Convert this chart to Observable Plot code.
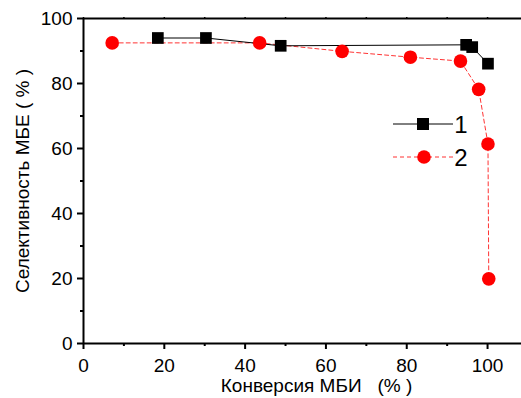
<!DOCTYPE html>
<html>
<head>
<meta charset="utf-8">
<script src="https://cdn.jsdelivr.net/npm/d3@7"></script>
<script src="https://cdn.jsdelivr.net/npm/@observablehq/plot@0.6"></script>
<style>
body { margin: 0; background: #fff; }
#chart svg { font-family: "Liberation Sans", Arial, sans-serif; }
</style>
</head>
<body>
<div id="chart"></div>
<script>
// Series 1 (black squares)
const s1x = [18.4, 30.3, 48.8, 94.7, 96.2, 100.1];
const s1y = [94.0, 94.0, 91.6, 91.9, 91.2, 86.1];
// Series 2 (red circles)
const s2x = [7.1, 43.6, 64.0, 80.9, 93.3, 97.8, 100.1, 100.3];
const s2y = [92.5, 92.5, 89.9, 88.1, 86.9, 78.2, 61.4, 19.9];
const xMajor = [0, 20, 40, 60, 80, 100];
const xMinor = [10, 30, 50, 70, 90];
const yMajor = [0, 20, 40, 60, 80, 100];
const yMinor = [10, 30, 50, 70, 90];
const xLabel = "Конверсия МБИ\u00a0\u00a0\u00a0(%\u00a0)";
const yLabel = "Селективность МБЕ (\u00a0%\u00a0)";
const seriesNames = ["1", "2"];

const d1 = s1x.map((x, i) => ({x, y: s1y[i]}));
const d2 = s2x.map((x, i) => ({x, y: s2y[i]}));

const plot = Plot.plot({
  width: 521,
  height: 398,
  marginLeft: 83,
  marginRight: 0,
  marginTop: 18,
  marginBottom: 55,
  x: {domain: [0, 108.4]},
  y: {domain: [0, 100]},
  style: {fontSize: "19px", fontFamily: "Liberation Sans, Arial, sans-serif", color: "#000"},
  marks: [
    Plot.axisX(xMajor, {tickSize: 6, tickPadding: 9, strokeWidth: 2, label: null, fontSize: 19}),
    Plot.axisX(xMinor, {tickSize: 3, strokeWidth: 2, text: null, label: null}),
    Plot.axisX([...xMajor, ...xMinor], {anchor: "top", tickSize: 2, strokeWidth: 1.5, text: null, label: null}),
    Plot.axisY(yMajor, {tickSize: 6, tickPadding: 5, strokeWidth: 2, label: null, fontSize: 19}),
    Plot.axisY(yMinor, {tickSize: 3, strokeWidth: 2, text: null, label: null}),
    Plot.ruleX([0], {stroke: "#000", strokeWidth: 2}),
    Plot.ruleY([0], {stroke: "#000", strokeWidth: 2}),
    Plot.ruleY([100], {stroke: "#000", strokeWidth: 2}),
    Plot.line(d2, {x: "x", y: "y", stroke: "#ff3333", strokeWidth: 1, strokeDasharray: "4,3"}),
    Plot.line(d1, {x: "x", y: "y", stroke: "#000", strokeWidth: 1}),
    Plot.dot(d1, {x: "x", y: "y", symbol: "square", r: 6.6, fill: "#000", stroke: "none"}),
    Plot.dot(d2, {x: "x", y: "y", symbol: "circle", r: 6.8, fill: "#ff0000", stroke: "none"}),
    Plot.text([xLabel], {frameAnchor: "bottom", textAnchor: "middle", dx: 14, dy: 42, fontSize: 19, fill: "#000", lineAnchor: "middle"}),
    Plot.text([yLabel], {frameAnchor: "left", textAnchor: "middle", dx: -61, dy: 0, rotate: -90, fontSize: 19, fill: "#000", lineAnchor: "middle"})
  ]
});
document.getElementById("chart").appendChild(plot);

// Legend overlay
const svg = d3.select(plot);
const leg = svg.append("g").attr("transform", "translate(393,124)");
const rows = [
  {name: seriesNames[0], stroke: "#000", dash: null, sym: "square", fill: "#000"},
  {name: seriesNames[1], stroke: "#ff3333", dash: "4,3", sym: "circle", fill: "#ff0000"}
];
rows.forEach((r, i) => {
  const g = leg.append("g").attr("transform", `translate(0,${i * 33})`);
  g.append("line").attr("x1", 0).attr("x2", 60).attr("y1", 0).attr("y2", 0)
    .attr("stroke", r.stroke).attr("stroke-width", 1).attr("stroke-dasharray", r.dash);
  if (r.sym === "square") {
    g.append("rect").attr("x", 24).attr("y", -6).attr("width", 12).attr("height", 12).attr("fill", r.fill);
  } else {
    g.append("circle").attr("cx", 31).attr("cy", 0).attr("r", 6.8).attr("fill", r.fill);
  }
  g.append("text").attr("x", 68).attr("y", 0).attr("dy", "0.36em")
    .attr("font-size", 24).attr("fill", "#000").text(r.name);
});
</script>
</body>
</html>
